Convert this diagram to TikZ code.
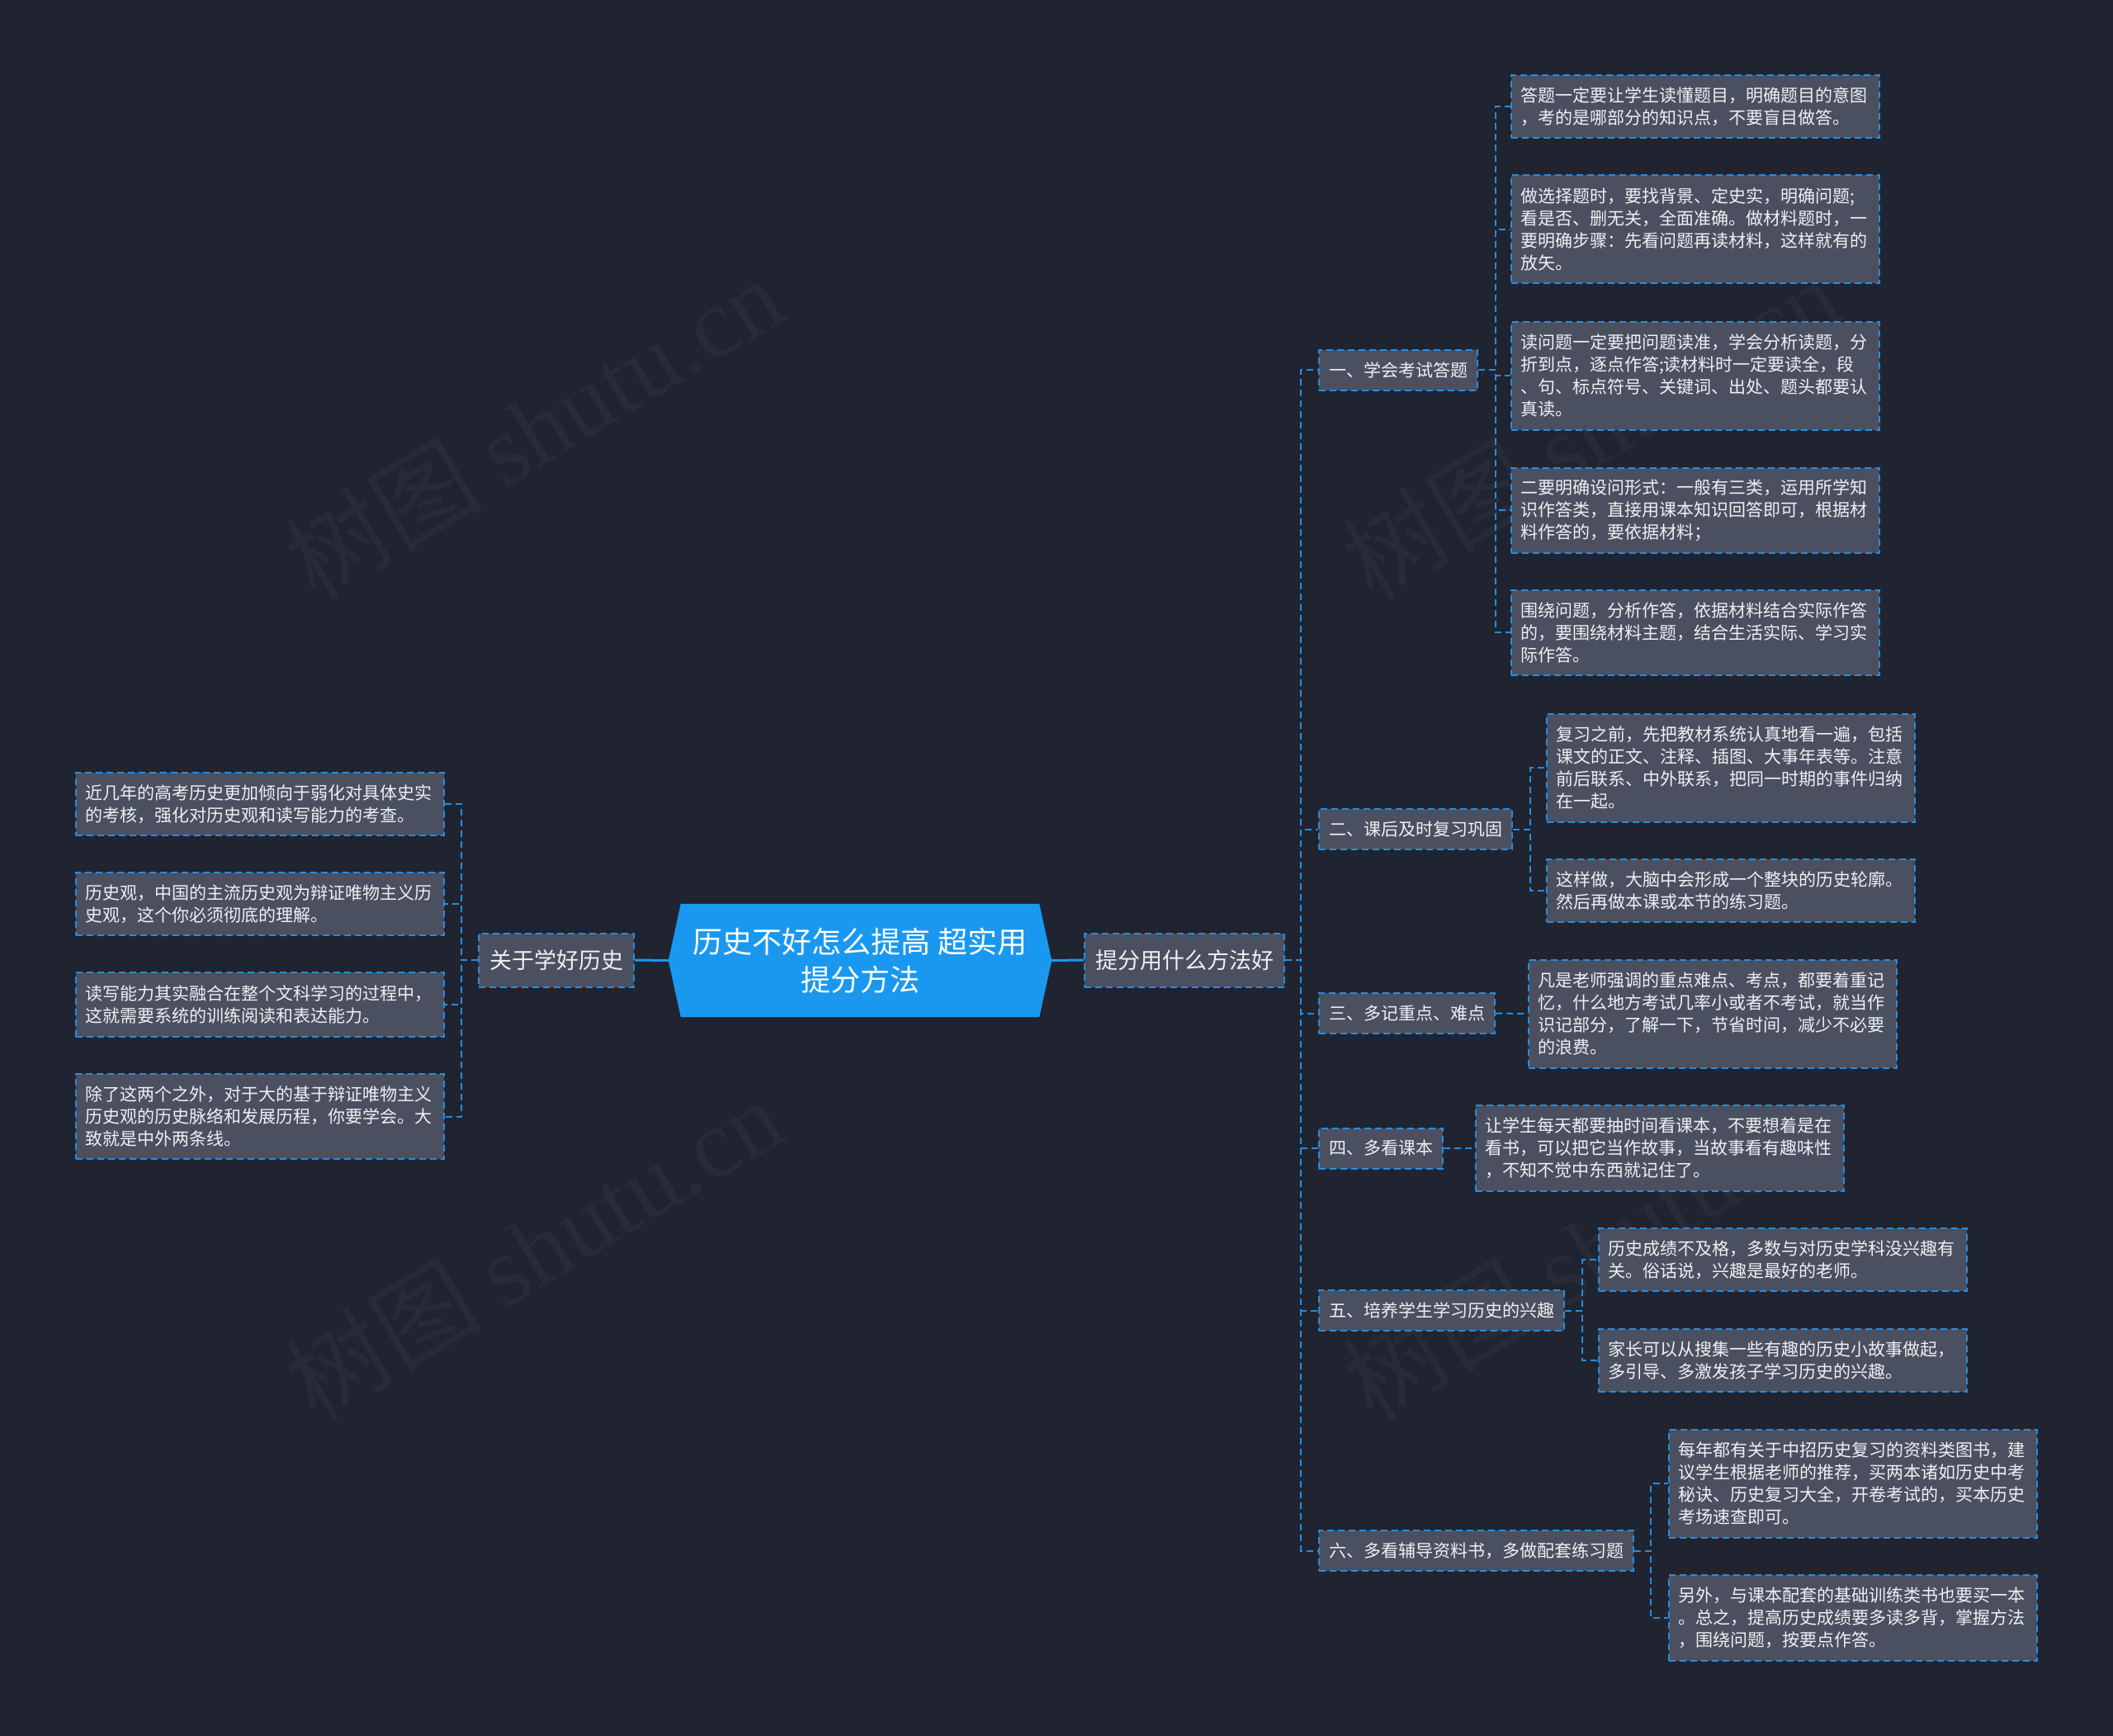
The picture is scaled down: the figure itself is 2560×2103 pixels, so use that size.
\documentclass[tikz,border=0pt]{standalone}
\usepackage{fontspec}
\setmainfont{Noto Sans CJK SC}
\newfontfamily\wmlatin{Liberation Serif}
\usetikzlibrary{backgrounds}
\definecolor{bgc}{RGB}{32,36,48}
\definecolor{boxfill}{RGB}{74,80,95}
\definecolor{lineblue}{RGB}{38,140,225}
\definecolor{rootblue}{RGB}{26,152,240}
\definecolor{txt}{RGB}{238,240,243}
\definecolor{wmc}{RGB}{39,43,56}
\begin{document}
\begin{tikzpicture}[x=1pt,y=-1pt,
  box/.style={draw=lineblue, fill=boxfill, line width=2pt, dash pattern=on 8pt off 5pt, text=txt, inner ysep=0pt},
  leaf/.style={box, anchor=west, align=left, text width=424pt, inner xsep=11pt, font=\fontsize{21}{27}\selectfont},
  sub/.style={box, anchor=west, inner xsep=12pt, minimum height=49pt, font=\fontsize{21}{25}\selectfont},
  topic/.style={box, inner xsep=13pt, minimum height=65pt, font=\fontsize{27}{32}\selectfont},
  conn/.style={draw=lineblue, line width=2pt, dash pattern=on 8pt off 5pt},
  trunk/.style={draw=rootblue, line width=3pt},
  wm/.style={text=wmc, rotate=31, font=\fontsize{120}{120}\selectfont}
]
\useasboundingbox (0,0) rectangle (2560,2103);

% root
\node[minimum width=464pt, minimum height=137pt, inner sep=0pt, align=center, text=white,
      font=\fontsize{36}{46}\selectfont] (root) at (1042,1163.5) {历史不好怎么提高 超实用\\提分方法};

\begin{pgfonlayer}{background}
  \fill[bgc] (0,0) rectangle (2560,2103);
  \node[wm] (wm1) at (646,518) {树图 {\wmlatin shutu.cn}};
  \node[wm] (wm2) at (646,1512) {树图 {\wmlatin shutu.cn}};
  \node[wm] (wm3) at (1927,518) {树图 {\wmlatin shutu.cn}};
  \node[wm] (wm4) at (1927,1512) {树图 {\wmlatin shutu.cn}};
  \fill[rootblue] ([xshift=15pt]root.north west) -- ([xshift=-15pt]root.north east) -- (root.east)
     -- ([xshift=-15pt]root.south east) -- ([xshift=15pt]root.south west) -- (root.west) -- cycle;
\end{pgfonlayer}

% topics
\node[topic, anchor=west] (tR) at (1313,1163) {提分用什么方法好};
\node[topic, anchor=east] (tL) at (769,1163) {关于学好历史};
\draw[trunk] (root.east) -- (tR.west);
\draw[trunk] (root.west) -- (tL.east);

% right subtopics
\node[sub] (s1) at (1597,448) {一、学会考试答题};
\node[sub] (s2) at (1597,1004.5) {二、课后及时复习巩固};
\node[sub] (s3) at (1597,1227.5) {三、多记重点、难点};
\node[sub] (s4) at (1597,1391) {四、多看课本};
\node[sub] (s5) at (1597,1587.5) {五、培养学生学习历史的兴趣};
\node[sub] (s6) at (1597,1878.5) {六、多看辅导资料书，多做配套练习题};
\foreach \s in {s1,s2,s3,s4,s5,s6}
  \draw[conn] (tR.east) -- ++(19,0) |- (\s.west);

% group 1
\node[leaf, minimum height=76pt] (a1) at (1830,129) {答题一定要让学生读懂题目，明确题目的意图\\，考的是哪部分的知识点，不要盲目做答。};
\node[leaf, minimum height=131pt] (a2) at (1830,277.5) {做选择题时，要找背景、定史实，明确问题;\\看是否、删无关，全面准确。做材料题时，一\\要明确步骤：先看问题再读材料，这样就有的\\放矢。};
\node[leaf, minimum height=131pt] (a3) at (1830,455) {读问题一定要把问题读准，学会分析读题，分\\折到点，逐点作答;读材料时一定要读全，段\\、句、标点符号、关键词、出处、题头都要认\\真读。};
\node[leaf, minimum height=103pt] (a4) at (1830,618) {二要明确设问形式：一般有三类，运用所学知\\识作答类，直接用课本知识回答即可，根据材\\料作答的，要依据材料；};
\node[leaf, minimum height=103pt] (a5) at (1830,766) {围绕问题，分析作答，依据材料结合实际作答\\的，要围绕材料主题，结合生活实际、学习实\\际作答。};
\foreach \c in {a1,a2,a3,a4,a5}
  \draw[conn] (s1.east) -- ++(21,0) |- (\c.west);

% group 2
\node[leaf, minimum height=131pt] (b1) at (1873,930) {复习之前，先把教材系统认真地看一遍，包括\\课文的正文、注释、插图、大事年表等。注意\\前后联系、中外联系，把同一时期的事件归纳\\在一起。};
\node[leaf, minimum height=76pt] (b2) at (1873,1079) {这样做，大脑中会形成一个整块的历史轮廓。\\然后再做本课或本节的练习题。};
\foreach \c in {b1,b2}
  \draw[conn] (s2.east) -- ++(21,0) |- (\c.west);

% group 3
\node[leaf, minimum height=131pt] (c1) at (1851,1228) {凡是老师强调的重点难点、考点，都要着重记\\忆，什么地方考试几率小或者不考试，就当作\\识记部分，了解一下，节省时间，减少不必要\\的浪费。};
\draw[conn] (s3.east) -- (c1.west);

% group 4
\node[leaf, minimum height=104pt] (d1) at (1787,1391) {让学生每天都要抽时间看课本，不要想着是在\\看书，可以把它当作故事，当故事看有趣味性\\，不知不觉中东西就记住了。};
\draw[conn] (s4.east) -- (d1.west);

% group 5
\node[leaf, minimum height=76pt] (e1) at (1936,1526) {历史成绩不及格，多数与对历史学科没兴趣有\\关。俗话说，兴趣是最好的老师。};
\node[leaf, minimum height=76pt] (e2) at (1936,1648) {家长可以从搜集一些有趣的历史小故事做起，\\多引导、多激发孩子学习历史的兴趣。};
\foreach \c in {e1,e2}
  \draw[conn] (s5.east) -- ++(21,0) |- (\c.west);

% group 6
\node[leaf, minimum height=131pt] (f1) at (2021,1797) {每年都有关于中招历史复习的资料类图书，建\\议学生根据老师的推荐，买两本诸如历史中考\\秘诀、历史复习大全，开卷考试的，买本历史\\考场速查即可。};
\node[leaf, minimum height=104pt] (f2) at (2021,1960) {另外，与课本配套的基础训练类书也要买一本\\。总之，提高历史成绩要多读多背，掌握方法\\，围绕问题，按要点作答。};
\foreach \c in {f1,f2}
  \draw[conn] (s6.east) -- ++(20,0) |- (\c.west);

% left leaves
\node[leaf, anchor=east, minimum height=76pt] (g1) at (539,974) {近几年的高考历史更加倾向于弱化对具体史实\\的考核，强化对历史观和读写能力的考查。};
\node[leaf, anchor=east, minimum height=76pt] (g2) at (539,1095) {历史观，中国的主流历史观为辩证唯物主义历\\史观，这个你必须彻底的理解。};
\node[leaf, anchor=east, minimum height=78pt] (g3) at (539,1217) {读写能力其实融合在整个文科学习的过程中，\\这就需要系统的训练阅读和表达能力。};
\node[leaf, anchor=east, minimum height=103pt] (g4) at (539,1352.5) {除了这两个之外，对于大的基于辩证唯物主义\\历史观的历史脉络和发展历程，你要学会。大\\致就是中外两条线。};
\foreach \c in {g1,g2,g3,g4}
  \draw[conn] (tL.west) -- ++(-20,0) |- (\c.east);
\end{tikzpicture}
\end{document}
